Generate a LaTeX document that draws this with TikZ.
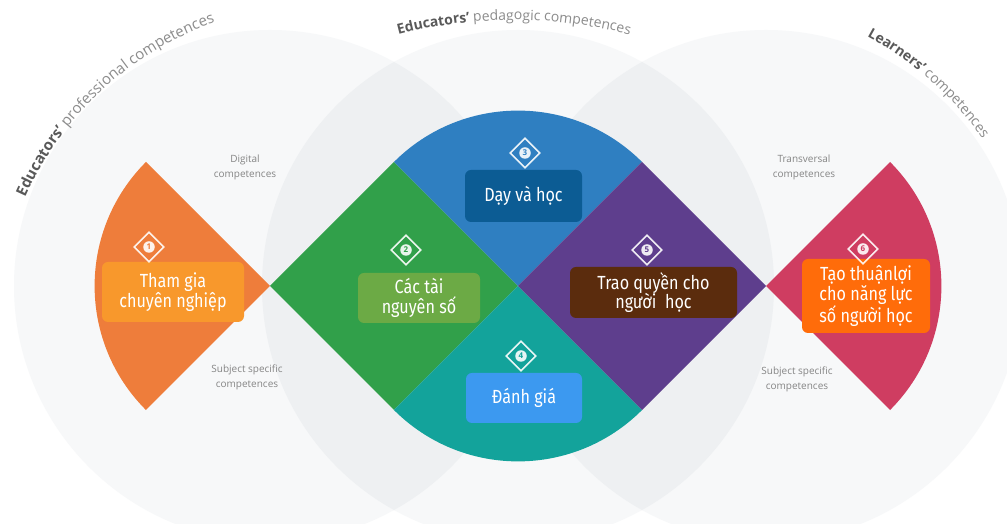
\documentclass[tikz,border=0pt]{standalone}
\usepackage{fontspec}
\setmainfont{Open Sans}
\newfontfamily\boxfont[FakeStretch=0.85]{Fira Sans}
\usetikzlibrary{decorations.text,shapes.geometric}
\definecolor{circfill}{HTML}{F7F8F9}
\definecolor{lensfill}{HTML}{EEF0F2}
\definecolor{orangec}{HTML}{EE7D3B}
\definecolor{greenc}{HTML}{31A04A}
\definecolor{bluec}{HTML}{2F7FC1}
\definecolor{tealc}{HTML}{13A39B}
\definecolor{purplec}{HTML}{5E3E8D}
\definecolor{pinkc}{HTML}{CF3D61}
\definecolor{boxa}{HTML}{F8982C}
\definecolor{boxb}{HTML}{6CAA45}
\definecolor{boxc}{HTML}{0C5C94}
\definecolor{boxd}{HTML}{3C99F0}
\definecolor{boxe}{HTML}{5B2C0D}
\definecolor{boxf}{HTML}{FF6C0A}
\definecolor{tdark}{HTML}{595959}
\definecolor{tlight}{HTML}{8C8C8C}
\definecolor{lblc}{HTML}{858585}
\newcommand\arcfont{\fontsize{14}{16}\selectfont}
\newcommand\arcfontL{\fontsize{15}{17}\selectfont}
\begin{document}
\begin{tikzpicture}[x=1pt,y=1pt,
  txtbox/.style={rounded corners=6pt, text=white, align=center, inner sep=0pt,
    font=\boxfont\fontsize{19}{19.5}\selectfont},
  badge/.style={shape=diamond, draw=white, draw opacity=0.9, line width=1.6pt,
    minimum width=30pt, minimum height=30pt, inner sep=0pt},
  badgenum/.style={circle, fill=white, fill opacity=0.9, text opacity=1,
    inner sep=0pt, minimum size=11.5pt, font=\bfseries\fontsize{8}{8}\selectfont},
  lbl/.style={text=lblc, align=center, font=\fontsize{10}{15}\selectfont}]
\useasboundingbox (0,0) rectangle (1007,524);
\fill[white] (0,0) rectangle (1007,524);
\coordinate (C1) at (270,238);
\coordinate (C2) at (518,238);
\coordinate (C3) at (766,238);
% background circles
\fill[circfill] (C1) circle (256);
\fill[circfill] (C2) circle (256);
\fill[circfill] (C3) circle (256);
\begin{scope}
  \clip (C1) circle (256);
  \fill[lensfill] (C2) circle (256);
\end{scope}
\begin{scope}
  \clip (C3) circle (256);
  \fill[lensfill] (C2) circle (256);
\end{scope}
% sectors
\fill[orangec] (C1) -- ++(135:175.4) arc[start angle=135, end angle=225, radius=175.4] -- cycle;
\fill[greenc] (C1) -- (394,362) -- (C2) -- (394,114) -- cycle;
\fill[bluec] (C2) -- ++(45:175.4) arc[start angle=45, end angle=135, radius=175.4] -- cycle;
\fill[tealc] (C2) -- ++(225:175.4) arc[start angle=225, end angle=315, radius=175.4] -- cycle;
\fill[purplec] (C2) -- (642,362) -- (C3) -- (642,114) -- cycle;
\fill[pinkc] (C3) -- ++(-45:175.4) arc[start angle=-45, end angle=45, radius=175.4] -- cycle;
% text boxes
\node[txtbox, fill=boxa, minimum width=142pt, minimum height=60pt] (b1) at (173,232) {Tham gia\\chuyên nghiệp};
\node[txtbox, fill=boxb, minimum width=122pt, minimum height=50pt] (b2) at (419,226) {Các tài\\nguyên số};
\node[txtbox, fill=boxc, minimum width=117pt, minimum height=52pt] (b3) at (523.5,328) {Dạy và học};
\node[txtbox, fill=boxd, minimum width=116pt, minimum height=50pt] (b4) at (524,126) {Đánh giá};
\node[txtbox, fill=boxe, minimum width=167pt, minimum height=51pt] (b5) at (653.5,231.5) {Trao quyền cho\\người\ \ học};
\node[txtbox, fill=boxf, minimum width=128pt, minimum height=74pt] (b6) at (866,228) {Tạo thuậnlợi\\cho năng lực\\số người học};
% number badges
\node[badge] (d1) at (149,277) {};
\node[badgenum, text=orangec] (n1) at (d1) {1};
\node[badge] (d2) at (406,274) {};
\node[badgenum, text=greenc] (n2) at (d2) {2};
\node[badge] (d3) at (525,371) {};
\node[badgenum, text=bluec] (n3) at (d3) {3};
\node[badge] (d4) at (521,168) {};
\node[badgenum, text=tealc] (n4) at (d4) {4};
\node[badge] (d5) at (647,274) {};
\node[badgenum, text=purplec] (n5) at (d5) {5};
\node[badge] (d6) at (863,275) {};
\node[badgenum, text=pinkc] (n6) at (d6) {6};
% small labels
\node[lbl] (l1) at (245,356.5) {Digital\\competences};
\node[lbl] (l2) at (247,146.5) {Subject specific\\competences};
\node[lbl] (l3) at (804,356.5) {Transversal\\competences};
\node[lbl] (l4) at (797,144.5) {Subject specific\\competences};
% curved titles
\path[decorate, decoration={text along path, text align=left,
  text={|\arcfontL\bfseries\color{tdark}|Educators'|\arcfontL\color{tlight}| professional competences}}]
  (323,194) ++(156:326) arc[start angle=156, end angle=92, radius=326];
\path[decorate, decoration={text along path, text align=center,
  text={|\arcfont\bfseries\color{tdark}|Educators'|\arcfont\color{tlight}| pedagogic competences}}]
  (514,46) ++(110:458) arc[start angle=110, end angle=70, radius=458];
\path[decorate, decoration={text along path, text align=left,
  text={|\arcfont\bfseries\color{tdark}|Learners'|\arcfont\color{tlight}| competences}}]
  (705,189) ++(61.5:340) arc[start angle=61.5, end angle=18, radius=340];
\end{tikzpicture}
\end{document}
